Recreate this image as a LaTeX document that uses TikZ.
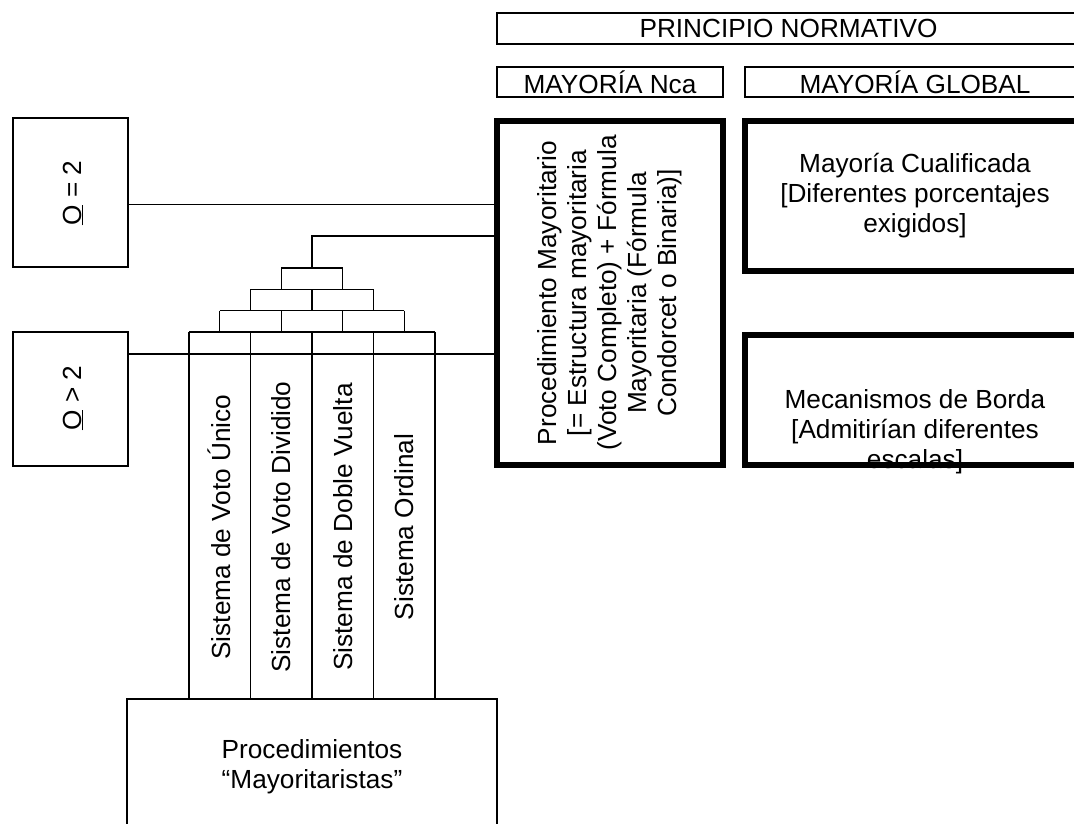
\documentclass[tikz,border=0pt]{standalone}
\usepackage{fontspec}
\setmainfont{Liberation Sans}
\newcommand\diagfont{\fontsize{26.2}{30}\selectfont}
\begin{document}
\begin{tikzpicture}[x=1pt,y=-1pt,
  txt/.style={font=\diagfont, align=center, inner sep=0pt},
  hdr/.style={txt, draw, line width=1.8pt},
  heavy/.style={draw, line width=5.5pt, inner sep=0pt},
  obox/.style={draw, line width=2.6pt, inner sep=0pt},
  tree/.style={line width=1.2pt},
  link/.style={line width=1pt},
  ]
\useasboundingbox (0,0) rectangle (1074,823);
\clip (0,0) rectangle (1074,823);

% headers
\node[hdr, minimum width=583pt, minimum height=31pt] (pn) at (788.5,28.5) {PRINCIPIO NORMATIVO};
\node[hdr, minimum width=226pt, minimum height=30pt] (nca) at (610,82) {MAYORÍA Nca};
\node[hdr, minimum width=340pt, minimum height=30pt] (glob) at (915,82) {MAYORÍA GLOBAL};

% majority procedure
\node[heavy, minimum width=226pt, minimum height=344pt] (proc) at (610,293) {};
\node[txt, rotate=90] (proclbl) at (proc.center)
  {Procedimiento Mayoritario\\{}[= Estructura mayoritaria\\(Voto Completo) + Fórmula\\Mayoritaria (Fórmula\\Condorcet o Binaria)]};

% global majority boxes
\node[heavy, txt, minimum width=340pt, minimum height=150pt] (cual) at (915,196)
  {Mayoría Cualificada\\{}[Diferentes porcentajes\\exigidos]};
\node[heavy, minimum width=340pt, minimum height=130pt] (borda) at (915,400) {};
\node[txt] (bordalbl) at (915,432) {Mecanismos de Borda\\{}[Admitirían diferentes\\escalas]};

% number of options
\node[obox, minimum width=115pt, minimum height=149pt] (o2) at (70.5,192.5) {};
\node[txt, rotate=90] (o2lbl) at (73,193) {\underline{O} = 2};
\node[obox, minimum width=115pt, minimum height=134pt] (o3) at (70.5,399) {};
\node[txt, rotate=90] (o3lbl) at (73,398) {\underline{O} > 2};

% base box
\node[obox, minimum width=370pt, minimum height=136pt] (base) at (312,767) {};
\node[txt] (baselbl) at (base.center) {Procedimientos\\“Mayoritaristas”};

% voting systems
\node[txt, rotate=90] (s1) at (219.5,527) {Sistema de Voto Único};
\node[txt, rotate=90] (s2) at (281,527) {Sistema de Voto Dividido};
\node[txt, rotate=90] (s3) at (343,527) {Sistema de Doble Vuelta};
\node[txt, rotate=90] (s4) at (404.5,527) {Sistema Ordinal};

% bracket tree joining the systems
\foreach \r in {1,...,4} {
  \pgfmathsetmacro\yt{268+(\r-1)*21.33}
  \pgfmathsetmacro\yb{\r==4 ? 699 : \yt+21.33}
  \draw[tree] ({312-\r*30.75},\yt) -- ({312+\r*30.75},\yt);
  \foreach \j in {0,...,\r} {
    \pgfmathsetmacro\xx{312+(2*\j-\r)*30.75}
    \draw[tree] (\xx,\yt) -- (\xx,\yb);
  }
}
\coordinate (stem) at (312,268);
\coordinate (elbow) at (312,236);
\draw[line width=1.7pt] (stem) -- (elbow) -- (elbow -| proc.west);

% connectors from the option boxes
\draw[link] ([yshift=-11.5pt]o2.east) -- ([yshift=-11.5pt]o2.east -| proc.west);
\draw[line width=2.2pt] ([yshift=45pt]o3.east) -- ([yshift=45pt]o3.east -| proc.west);
\end{tikzpicture}
\end{document}
